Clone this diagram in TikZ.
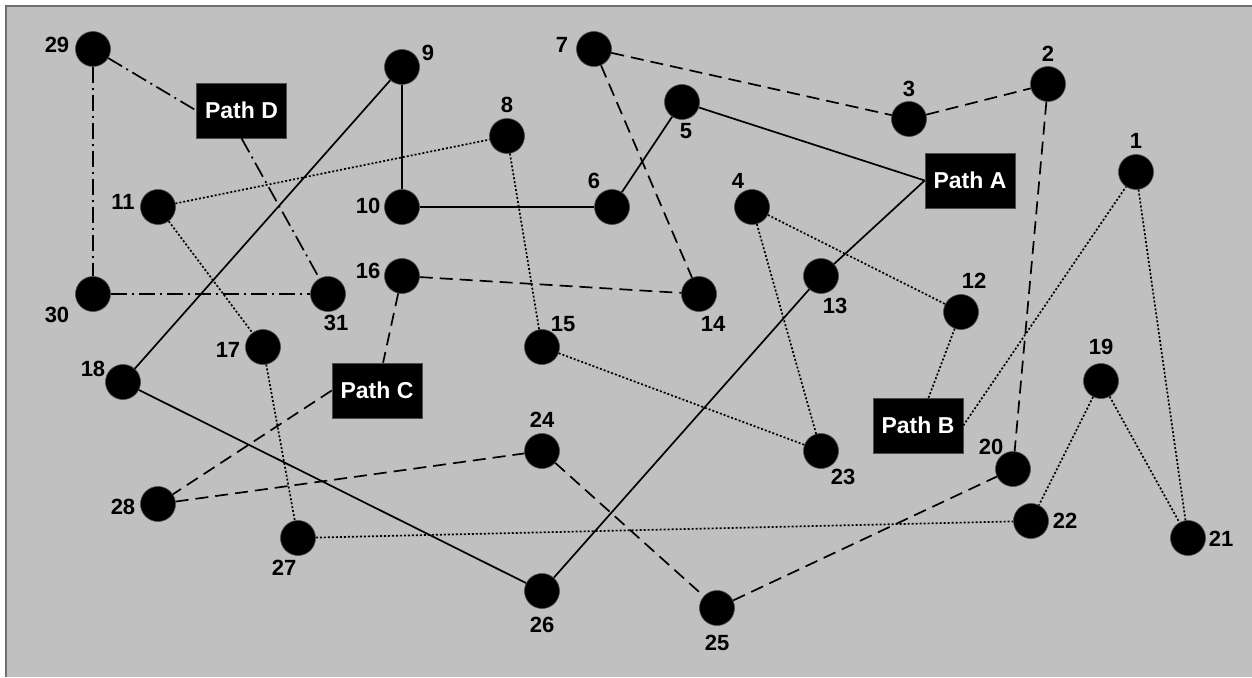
\documentclass[tikz,border=0pt]{standalone}
\usepackage{fontspec}
\setmainfont{Liberation Sans}
\begin{document}
\begin{tikzpicture}[x=1pt,y=-1pt,
  dot/.style={circle,fill=black,draw=black!70,line width=0.6pt,minimum size=35pt,inner sep=0pt},
  pathbox/.style={rectangle,fill=black,draw=black!70,line width=0.6pt,minimum width=90pt,minimum height=55pt,inner sep=0pt,text=white,font=\bfseries\fontsize{23}{23}\selectfont},
  lbl/.style={font=\bfseries\fontsize{22}{22}\selectfont,inner sep=0pt},
  sol/.style={line width=1.7pt},
  dsh/.style={line width=1.7pt,dash pattern=on 13pt off 7pt},
  dtt/.style={line width=1.7pt,dash pattern=on 2pt off 2pt},
  ddt/.style={line width=1.7pt,dash pattern=on 16pt off 5pt on 2pt off 5pt}]
\useasboundingbox (0,0) rectangle (1252,677);
\fill[white] (0,0) rectangle (1252,677);
\fill[fill={rgb,255:red,192;green,192;blue,192}] (6,6) rectangle (1252,677);
\draw[line width=1.6pt,draw={rgb,255:red,110;green,110;blue,110}] (6,677) -- (6,6) -- (1252,6);
% nodes
\node[dot] (n1) at (1136,172) {};
\node[dot] (n2) at (1048,84) {};
\node[dot] (n3) at (909,119) {};
\node[dot] (n4) at (752,207) {};
\node[dot] (n5) at (682,102) {};
\node[dot] (n6) at (612,207) {};
\node[dot] (n7) at (594,49) {};
\node[dot] (n8) at (507,136) {};
\node[dot] (n9) at (402,67) {};
\node[dot] (n10) at (402,207) {};
\node[dot] (n11) at (158,207) {};
\node[dot] (n12) at (961,312) {};
\node[dot] (n13) at (821,276) {};
\node[dot] (n14) at (699,294) {};
\node[dot] (n15) at (542,347) {};
\node[dot] (n16) at (402,276) {};
\node[dot] (n17) at (263,347) {};
\node[dot] (n18) at (123,382) {};
\node[dot] (n19) at (1101,381) {};
\node[dot] (n20) at (1013,469) {};
\node[dot] (n21) at (1188,538) {};
\node[dot] (n22) at (1031,521) {};
\node[dot] (n23) at (821,451) {};
\node[dot] (n24) at (542,451) {};
\node[dot] (n25) at (717,608) {};
\node[dot] (n26) at (542,591) {};
\node[dot] (n27) at (298,538) {};
\node[dot] (n28) at (158,504) {};
\node[dot] (n29) at (93,49) {};
\node[dot] (n30) at (93,294) {};
\node[dot] (n31) at (328,294) {};
\node[pathbox] (pA) at (970,180.5) {Path A};
\node[pathbox] (pB) at (918,425.5) {Path B};
\node[pathbox] (pC) at (377,390.5) {Path C};
\node[pathbox] (pD) at (241.5,110.5) {Path D};
% labels
\node[lbl] (l1) at (1136,141) {1};
\node[lbl] (l2) at (1048,54) {2};
\node[lbl] (l3) at (909,89) {3};
\node[lbl] (l4) at (738,181) {4};
\node[lbl] (l5) at (686,131) {5};
\node[lbl] (l6) at (594,181) {6};
\node[lbl] (l7) at (562,45) {7};
\node[lbl] (l8) at (507,105) {8};
\node[lbl] (l9) at (428,53) {9};
\node[lbl] (l10) at (368,206) {10};
\node[lbl] (l11) at (123,202) {11};
\node[lbl] (l12) at (974,281) {12};
\node[lbl] (l13) at (835,306) {13};
\node[lbl] (l14) at (713,324) {14};
\node[lbl] (l15) at (563,324) {15};
\node[lbl] (l16) at (368,271) {16};
\node[lbl] (l17) at (228,350) {17};
\node[lbl] (l18) at (93,369) {18};
\node[lbl] (l19) at (1101,347) {19};
\node[lbl] (l20) at (991,447) {20};
\node[lbl] (l21) at (1221,539) {21};
\node[lbl] (l22) at (1065,521) {22};
\node[lbl] (l23) at (843,477) {23};
\node[lbl] (l24) at (542,420) {24};
\node[lbl] (l25) at (717,643) {25};
\node[lbl] (l26) at (542,625) {26};
\node[lbl] (l27) at (284,568) {27};
\node[lbl] (l28) at (123,507) {28};
\node[lbl] (l29) at (57,45) {29};
\node[lbl] (l30) at (57,315) {30};
\node[lbl] (l31) at (336,323) {31};
% solid
\draw[sol] (n9) -- (n10);
\draw[sol] (n9) -- (n18);
\draw[sol] (n10) -- (n6);
\draw[sol] (n6) -- (n5);
\draw[sol] (n5) -- (pA.west);
\draw[sol] (pA.west) -- (n13);
\draw[sol] (n13) -- (n26);
\draw[sol] (n18) -- (n26);
% dashed
\draw[dsh] (n7) -- (n3);
\draw[dsh] (n3) -- (n2);
\draw[dsh] (n7) -- (n14);
\draw[dsh] (n2) -- (n20);
\draw[dsh] (n16) -- (n14);
\draw[dsh] (n16) -- (pC);
\draw[dsh] (pC.west) -- (n28);
\draw[dsh] (n28) -- (n24);
\draw[dsh] (n24) -- (n25);
\draw[dsh] (n25) -- (n20);
% dotted
\draw[dtt] (n11) -- (n8);
\draw[dtt] (n8) -- (n15);
\draw[dtt] (n11) -- (n17);
\draw[dtt] (n17) -- (n27);
\draw[dtt] (n27) -- (n22);
\draw[dtt] (n15) -- (n23);
\draw[dtt] (n4) -- (n23);
\draw[dtt] (n4) -- (n12);
\draw[dtt] (n12) -- (pB);
\draw[dtt] (pB.east) -- (n1);
\draw[dtt] (n1) -- (n21);
\draw[dtt] (n19) -- (n22);
\draw[dtt] (n19) -- (n21);
% dash-dot
\draw[ddt] (n29) -- (pD.west);
\draw[ddt] (pD.south) -- (n31);
\draw[ddt] (n29) -- (n30);
\draw[ddt] (n30) -- (n31);
\end{tikzpicture}
\end{document}
